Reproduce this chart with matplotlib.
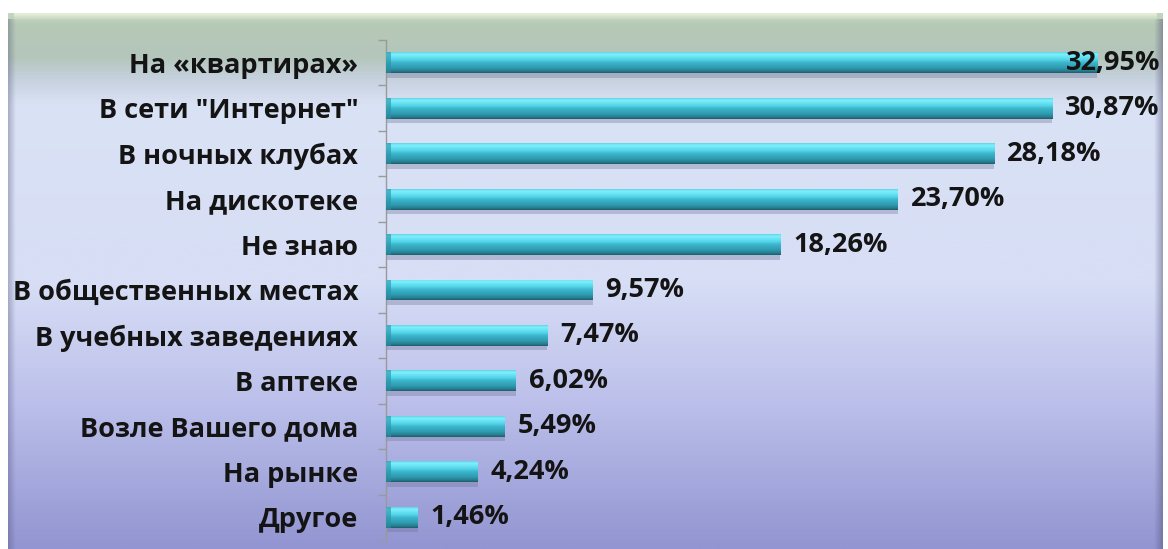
import numpy as np
import matplotlib
matplotlib.use("Agg")
import matplotlib.pyplot as plt
from matplotlib.colors import LinearSegmentedColormap

categories = ["На «квартирах»", "В сети \"Интернет\"", "В ночных клубах", "На дискотеке",
              "Не знаю", "В общественных местах", "В учебных заведениях", "В аптеке",
              "Возле Вашего дома", "На рынке", "Другое"]
values = [32.95, 30.87, 28.18, 23.70, 18.26, 9.57, 7.47, 6.02, 5.49, 4.24, 1.46]
value_labels = ["32,95%", "30,87%", "28,18%", "23,70%", "18,26%", "9,57%", "7,47%",
                "6,02%", "5,49%", "4,24%", "1,46%"]

W, H = 1168, 549
fig = plt.figure(figsize=(W / 100, H / 100), dpi=100)
fig.patch.set_facecolor("white")

# ---- background frame with gradient ----
bg = fig.add_axes([0, 0, 1, 1], zorder=0)
bg.set_xlim(0, W)
bg.set_ylim(H, 0)
bg.axis("off")
fx0, fx1, fy0, fy1 = 8, 1163, 13, 549
stops = [(0.0, "#c3d6bd"), (0.02, "#b6c9b6"), (0.08, "#b4c6bb"), (0.12, "#c6d1de"),
         (0.17, "#dae2f5"), (0.5, "#d7def5"), (0.72, "#bdc1eb"), (1.0, "#9295d1")]
cmap_bg = LinearSegmentedColormap.from_list("bg", stops)
grad = np.linspace(0, 1, 400).reshape(-1, 1)
bg.imshow(grad, cmap=cmap_bg, aspect="auto", extent=(fx0, fx1, fy1, fy0), interpolation="bilinear")
bg.imshow(np.tile(np.linspace(0.35, 0, 20), (2, 1)), cmap=LinearSegmentedColormap.from_list(
    "l", [(0, (0.3, 0.3, 0.45, 0)), (1, (0.3, 0.3, 0.45, 1))]), vmin=0, vmax=1,
    aspect="auto", extent=(fx0, fx0 + 8, fy1, fy0 + 6), interpolation="bilinear")
bg.imshow(np.tile(np.linspace(0, 0.45, 20), (2, 1)), cmap=LinearSegmentedColormap.from_list(
    "r", [(0, (0.3, 0.3, 0.45, 0)), (1, (0.3, 0.3, 0.45, 1))]), vmin=0, vmax=1,
    aspect="auto", extent=(fx1 - 9, fx1, fy1, fy0 + 6), interpolation="bilinear")
bg.imshow(np.linspace(0.6, 0, 10).reshape(-1, 1), cmap=LinearSegmentedColormap.from_list(
    "t", [(0, (1, 1, 0.95, 0)), (1, (1, 1, 0.95, 1))]), vmin=0, vmax=1,
    aspect="auto", extent=(fx0 + 6, fx1 - 6, fy0 + 8, fy0), interpolation="bilinear")

# ---- main axes ----
x_scale = 21.59  # px per percent
ax_left = 386 / W
ax_w = 35 * x_scale / W
ax_bottom = (H - 540) / H
ax_h = (540 - 40) / H
ax = fig.add_axes([ax_left, ax_bottom, ax_w, ax_h], zorder=2)
ax.patch.set_alpha(0)
n = len(categories)
y = np.arange(n)

bh = 0.46
bars = ax.barh(y, values, height=bh, color="#3cb9cf", zorder=3, linewidth=0)
bar_cmap = LinearSegmentedColormap.from_list("bar", [
    (0.0, "#5ed4e6"), (0.1, "#7ff0fc"), (0.35, "#55d6ea"), (0.5, "#3cb6cc"),
    (0.75, "#2f9cb2"), (0.9, "#287f90"), (1.0, "#1e5e6c")])
g = np.linspace(0, 1, 64).reshape(-1, 1)
for b, yy, v in zip(bars, y, values):
    ax.barh(yy + bh / 2 + 0.05, v, height=0.1, color="#6f7398", alpha=0.35, zorder=2, linewidth=0)
    im = ax.imshow(g, cmap=bar_cmap, aspect="auto", extent=(0, v, yy + bh / 2, yy - bh / 2),
                   zorder=4, interpolation="bilinear")
    im.set_clip_path(b)
    ax.barh(yy, 0.25, height=bh, color="#2a8ea3", alpha=0.6, zorder=5, linewidth=0)
ax.set_xlim(0, 35)
ax.set_ylim(n - 0.5, -0.5)

FONT = "Open Sans"
FS = 19.5
label_x = np.minimum(np.array(values) + 0.6, 31.5)
for yy, lx, s in zip(y, label_x, value_labels):
    ax.text(lx, yy, s, ha="left", va="center", fontsize=FS, fontweight="bold",
            color="#141414", family=FONT, zorder=6)

for sp in ["top", "right", "bottom"]:
    ax.spines[sp].set_visible(False)
ax.spines["left"].set_color("#9a9a9a")
ax.spines["left"].set_linewidth(1.0)
ax.set_xticks([])
ax.set_yticks(y)
ax.set_yticklabels(categories, fontsize=FS, fontweight="bold", family=FONT, color="#141414")
ax.tick_params(axis="y", which="major", length=0, pad=20)
ax.set_yticks(np.arange(-0.5, n, 1), minor=True)
ax.tick_params(axis="y", which="minor", length=6, color="#9a9a9a", width=1.0, direction="out")

fig.savefig("out.png", dpi=100, facecolor="white")
